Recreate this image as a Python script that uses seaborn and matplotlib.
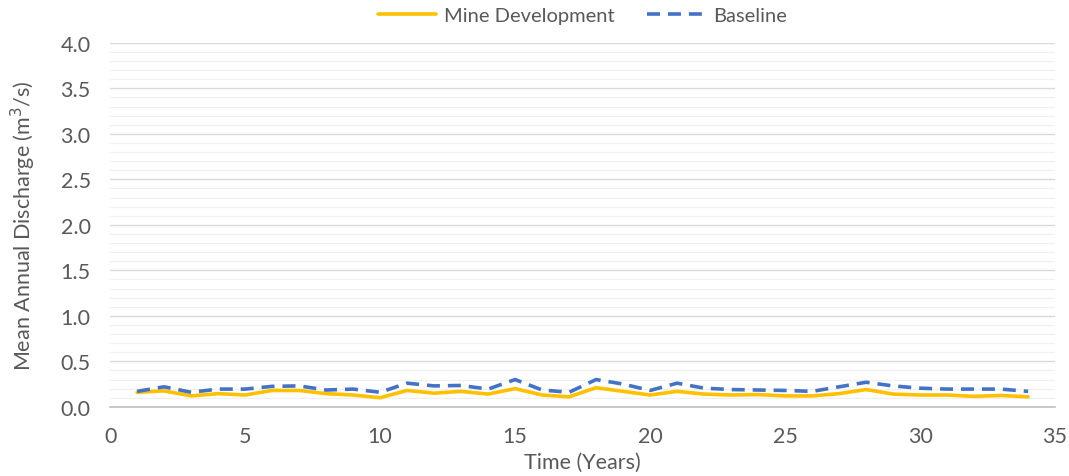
import numpy as np
import pandas as pd
import matplotlib
matplotlib.use("Agg")
import matplotlib.pyplot as plt
from matplotlib.ticker import MultipleLocator, FormatStrFormatter
import seaborn as sns

years = list(range(1, 35))
mine_development = [0.16, 0.175, 0.12, 0.145, 0.13, 0.18, 0.18, 0.145, 0.13, 0.10,
                    0.18, 0.15, 0.17, 0.14, 0.20, 0.13, 0.11, 0.21, 0.17, 0.13,
                    0.17, 0.14, 0.13, 0.135, 0.12, 0.12, 0.145, 0.19, 0.14, 0.13,
                    0.13, 0.115, 0.125, 0.11]
baseline = [0.17, 0.22, 0.16, 0.195, 0.195, 0.225, 0.23, 0.185, 0.195, 0.16,
            0.26, 0.23, 0.235, 0.195, 0.30, 0.185, 0.16, 0.30, 0.25, 0.18,
            0.26, 0.205, 0.19, 0.185, 0.18, 0.17, 0.22, 0.27, 0.23, 0.205,
            0.195, 0.195, 0.195, 0.17]
series_names = ["Mine Development", "Baseline"]

df = pd.DataFrame({
    "Year": years * 2,
    "Discharge": mine_development + baseline,
    "Series": [series_names[0]] * len(years) + [series_names[1]] * len(years),
})

sns.set_style("white")
plt.rcParams["font.family"] = ["Lato", "DejaVu Sans"]

fig = plt.figure(figsize=(10.69, 4.77), dpi=100)
ax = fig.add_axes([0.103, 0.145, 0.884, 0.763])

palette = {"Mine Development": "#FFC000", "Baseline": "#4472C4"}
sns.lineplot(data=df, x="Year", y="Discharge", hue="Series", style="Series",
             palette=palette, dashes={"Mine Development": "", "Baseline": (3.6, 2.2)},
             linewidth=2.6, ax=ax, legend=True)

ax.set_xlim(0, 35)
ax.set_ylim(0, 4.0)
ax.xaxis.set_major_locator(MultipleLocator(5))
ax.yaxis.set_major_locator(MultipleLocator(0.5))
ax.yaxis.set_minor_locator(MultipleLocator(0.1))
ax.yaxis.set_major_formatter(FormatStrFormatter("%.1f"))

ax.grid(axis="y", which="major", color="#d9d9d9", linewidth=1.0)
ax.grid(axis="y", which="minor", color="#f0f0f0", linewidth=0.9)
ax.set_axisbelow(True)

for side in ["top", "right", "left"]:
    ax.spines[side].set_visible(False)
ax.spines["bottom"].set_color("#bfbfbf")
ax.spines["bottom"].set_linewidth(1.2)

ax.tick_params(axis="x", which="major", direction="out", length=8, width=1.2,
               color="#bfbfbf", labelcolor="#595959", labelsize=15.5, pad=6)
ax.tick_params(axis="y", which="both", length=0, labelcolor="#595959", labelsize=15.5, pad=14)

ax.set_xlabel("Time (Years)", fontsize=15.5, color="#595959", labelpad=4)
ax.set_ylabel("Mean Annual Discharge (m$^3$/s)", fontsize=15.5, color="#595959", labelpad=16)

handles, labels = ax.get_legend_handles_labels()
ax.legend(handles, labels, loc="lower center", bbox_to_anchor=(0.5, 1.025), ncol=2,
          frameon=False, fontsize=14.5, labelcolor="#595959", handlelength=2.9,
          handletextpad=0.4, columnspacing=1.6, borderaxespad=0.1)

fig.savefig("out.png", dpi=100)
